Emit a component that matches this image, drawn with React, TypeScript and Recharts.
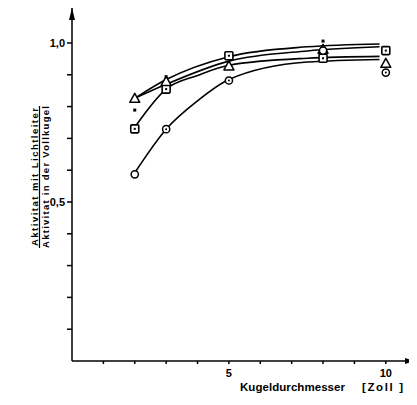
import React from 'react';
import { ComposedChart, Line, Scatter, XAxis, YAxis, ReferenceDot } from 'recharts';

// fitted curves
const curveTop = [
  { x: 2, y: 0.826 }, { x: 3, y: 0.885 }, { x: 5, y: 0.957 }, { x: 7.5, y: 0.988 }, { x: 9.8, y: 0.997 },
];
const curveSecond = [
  { x: 2, y: 0.826 }, { x: 3, y: 0.87 }, { x: 5, y: 0.943 }, { x: 7.5, y: 0.975 }, { x: 9.8, y: 0.988 },
];
const curveSquare = [
  { x: 2, y: 0.735 }, { x: 3, y: 0.855 }, { x: 4, y: 0.898 }, { x: 5, y: 0.93 }, { x: 7.5, y: 0.952 }, { x: 9.8, y: 0.958 },
];
const curveCircle = [
  { x: 2, y: 0.592 }, { x: 3, y: 0.729 }, { x: 4, y: 0.818 }, { x: 5, y: 0.885 }, { x: 7.5, y: 0.94 }, { x: 9.8, y: 0.948 },
];

// measured points
const dotCircles = [{ x: 3, y: 0.729 }, { x: 5, y: 0.882 }, { x: 10, y: 0.907 }];
const openCircles = [{ x: 2, y: 0.587 }, { x: 8, y: 0.976 }];
const squares = [
  { x: 2, y: 0.73 }, { x: 3, y: 0.855 }, { x: 5, y: 0.96 }, { x: 8, y: 0.952 }, { x: 10, y: 0.976 },
];
const triangles = [
  { x: 2, y: 0.826 }, { x: 3, y: 0.879 }, { x: 5, y: 0.928 }, { x: 8, y: 0.98 }, { x: 10, y: 0.936 },
];
const smallMarks = [{ x: 2, y: 0.789 }, { x: 3, y: 0.894 }, { x: 8, y: 1.006 }];

const xTicks = [1, 2, 3, 4, 5, 6, 7, 8, 9, 10];
const yTicks = [0.1, 0.2, 0.3, 0.4, 0.5, 0.6, 0.7, 0.8, 0.9, 1.0];
const xLabeled = [5, 10];
const yLabeled = [0.5, 1.0];

const FONT = '"Liberation Sans", Arial, sans-serif';

const CircleDot = (p: any) => (
  <g>
    <circle cx={p.cx} cy={p.cy} r={3.6} fill="#fff" stroke="#000" strokeWidth={1.5} />
    <circle cx={p.cx} cy={p.cy} r={1} fill="#000" />
  </g>
);
const OpenCircle = (p: any) => (
  <circle cx={p.cx} cy={p.cy} r={3.6} fill="#fff" stroke="#000" strokeWidth={1.5} />
);
const SquareDot = (p: any) => (
  <g>
    <rect x={p.cx - 4} y={p.cy - 4} width={8} height={8} fill="#fff" stroke="#000" strokeWidth={1.6} rx={1} />
    <rect x={p.cx - 1} y={p.cy - 1} width={2} height={2} fill="#000" />
  </g>
);
const Triangle = (p: any) => (
  <path
    d={`M${p.cx},${p.cy - 5} L${p.cx - 5},${p.cy + 4} L${p.cx + 5},${p.cy + 4} Z`}
    fill="#fff"
    stroke="#000"
    strokeWidth={1.5}
    strokeLinejoin="round"
  />
);
const SmallMark = (p: any) => <rect x={p.cx - 1.5} y={p.cy - 1.5} width={3} height={3} fill="#000" />;

const ArrowUp = (p: any) => (
  <path d={`M${p.cx},${p.cy} L${p.cx - 3},${p.cy + 12} L${p.cx + 3},${p.cy + 12} Z`} fill="#000" />
);
const ArrowRight = (p: any) => (
  <path d={`M${p.cx},${p.cy} L${p.cx - 10},${p.cy - 3} L${p.cx - 10},${p.cy + 3} Z`} fill="#000" />
);

const YLabel = () => (
  <g fontFamily={FONT} fontWeight="bold" fontSize={9.5} fill="#000">
    <text transform="translate(37.5,177) rotate(-90)" textAnchor="middle" textLength={138} lengthAdjust="spacing">
      Aktivitat mit Lichtleiter
    </text>
    <line x1={39.5} y1={106} x2={39.5} y2={248} stroke="#000" strokeWidth={1.2} />
    <text transform="translate(48.5,177) rotate(-90)" textAnchor="middle" textLength={142} lengthAdjust="spacing">
      Aktivitat in der Vollkugel
    </text>
  </g>
);

const XLabel = () => (
  <g fontFamily={FONT} fontWeight="bold" fontSize={11.5} fill="#000">
    <text x={240} y={391} textLength={105} lengthAdjust="spacing">Kugeldurchmesser</text>
    <text x={362} y={391} textLength={41} lengthAdjust="spacing">[Zoll ]</text>
  </g>
);

const App: React.FC = () => {
  return (
    <div style={{ margin: -8, width: 417, height: 405, background: '#fff' }}>
      <ComposedChart width={417} height={405} margin={{ top: 8, right: 2, bottom: 0, left: 0 }}>
        <XAxis
          type="number"
          dataKey="x"
          domain={[0, 10.93]}
          allowDataOverflow
          ticks={xTicks}
          tickFormatter={(v: number) => (xLabeled.includes(v) ? String(v) : '')}
          tickSize={3}
          tickMargin={5}
          height={44}
          stroke="#000"
          strokeWidth={1.5}
          tick={{ fill: '#000', fontSize: 11, fontWeight: 'bold', fontFamily: FONT }}
          label={{ content: () => <XLabel /> }}
        />
        <YAxis
          type="number"
          dataKey="y"
          domain={[0, 1.11]}
          allowDataOverflow
          ticks={yTicks}
          tickFormatter={(v: number) => (yLabeled.some((t) => Math.abs(t - v) < 1e-6) ? v.toFixed(1).replace('.', ',') : '')}
          tickSize={5}
          tickMargin={2}
          width={72}
          stroke="#000"
          strokeWidth={1.5}
          tick={{ fill: '#000', fontSize: 11, fontWeight: 'bold', fontFamily: FONT }}
          label={{ content: () => <YLabel /> }}
        />
        <ReferenceDot x={0} y={1.11} r={0} ifOverflow="visible" shape={ArrowUp} />
        <ReferenceDot x={10.93} y={0} r={0} ifOverflow="visible" shape={ArrowRight} />

        <Line data={curveTop} dataKey="y" type="monotone" stroke="#000" strokeWidth={1.6} dot={false} isAnimationActive={false} />
        <Line data={curveSecond} dataKey="y" type="monotone" stroke="#000" strokeWidth={1.6} dot={false} isAnimationActive={false} />
        <Line data={curveSquare} dataKey="y" type="monotone" stroke="#000" strokeWidth={1.6} dot={false} isAnimationActive={false} />
        <Line data={curveCircle} dataKey="y" type="monotone" stroke="#000" strokeWidth={1.6} dot={false} isAnimationActive={false} />

        <Scatter data={squares} dataKey="y" shape={SquareDot} isAnimationActive={false} />
        <Scatter data={triangles} dataKey="y" shape={Triangle} isAnimationActive={false} />
        <Scatter data={dotCircles} dataKey="y" shape={CircleDot} isAnimationActive={false} />
        <Scatter data={openCircles} dataKey="y" shape={OpenCircle} isAnimationActive={false} />
        <Scatter data={smallMarks} dataKey="y" shape={SmallMark} isAnimationActive={false} />
      </ComposedChart>
    </div>
  );
};

export default App;
